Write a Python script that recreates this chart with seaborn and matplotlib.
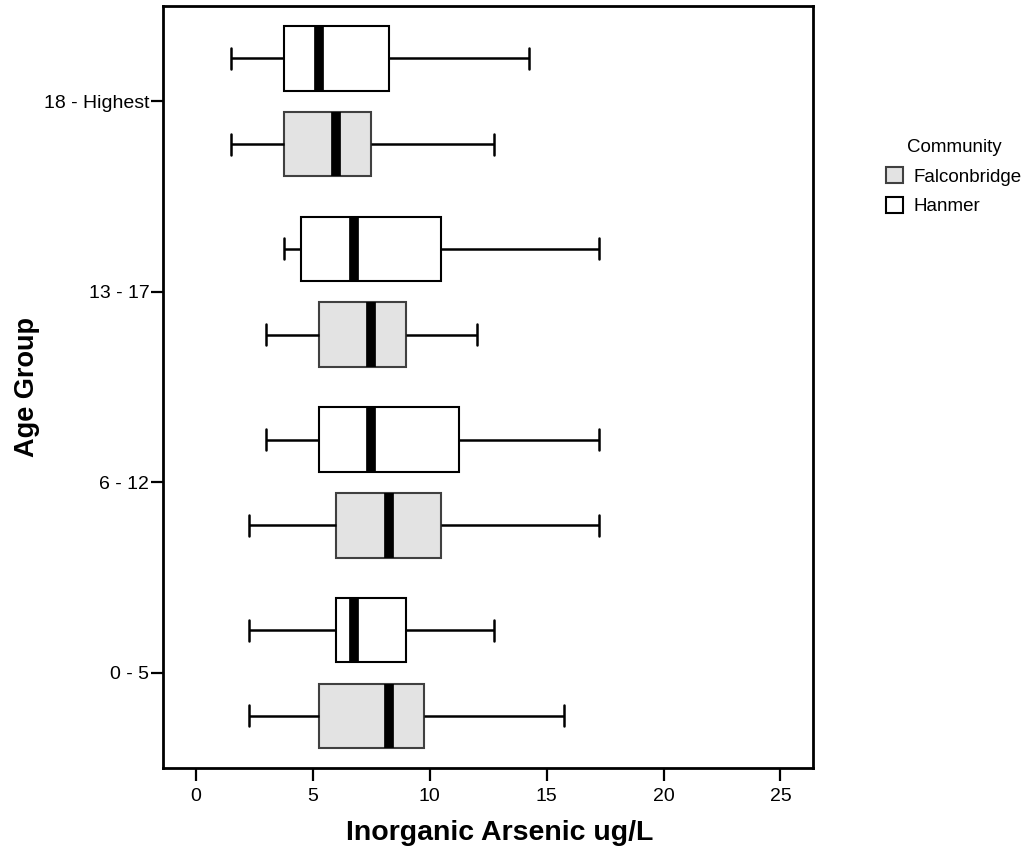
import numpy as np
import pandas as pd
import matplotlib.pyplot as plt
from matplotlib.patches import Patch
import seaborn as sns

# age groups, top to bottom as drawn
age_groups = ["18 - Highest", "13 - 17", "6 - 12", "0 - 5"]
communities = ["Hanmer", "Falconbridge"]
legend_order = ["Falconbridge", "Hanmer"]

# five-number summaries (min, q1, median, q3, max)
hanmer_min = [1.5, 3.75, 3.0, 2.25]
hanmer_q1 = [3.75, 4.5, 5.25, 6.0]
hanmer_med = [5.25, 6.75, 7.5, 6.75]
hanmer_q3 = [8.25, 10.5, 11.25, 9.0]
hanmer_max = [14.25, 17.25, 17.25, 12.75]

falcon_min = [1.5, 3.0, 2.25, 2.25]
falcon_q1 = [3.75, 5.25, 6.0, 5.25]
falcon_med = [6.0, 7.5, 8.25, 8.25]
falcon_q3 = [7.5, 9.0, 10.5, 9.75]
falcon_max = [12.75, 12.0, 17.25, 15.75]

x_ticks = [0, 5, 10, 15, 20, 25]

# a 5-value sample gives back exactly these quartiles with linear percentiles
rows = []
for i, age in enumerate(age_groups):
    for v in (hanmer_min[i], hanmer_q1[i], hanmer_med[i], hanmer_q3[i], hanmer_max[i]):
        rows.append((age, "Hanmer", v))
    for v in (falcon_min[i], falcon_q1[i], falcon_med[i], falcon_q3[i], falcon_max[i]):
        rows.append((age, "Falconbridge", v))
df = pd.DataFrame(rows, columns=["age", "community", "arsenic"])

sns.set_theme(style="ticks")
plt.rcParams["font.family"] = ["Liberation Sans", "DejaVu Sans"]
plt.rcParams["text.color"] = "black"
plt.rcParams["axes.labelcolor"] = "black"

fill = {"Hanmer": "#ffffff", "Falconbridge": "#e3e3e3"}
edge = {"Hanmer": "#000000", "Falconbridge": "#404040"}

fig, ax = plt.subplots(figsize=(10.32, 8.48), dpi=100)
fig.subplots_adjust(left=0.1582, right=0.788, bottom=0.094, top=0.993)

sns.boxplot(
    data=df, x="arsenic", y="age", hue="community",
    order=age_groups, hue_order=communities, palette=fill,
    whis=(0, 100), width=0.9, gap=0.245, showfliers=False,
    linecolor="black", linewidth=1.5,
    medianprops=dict(color="black", linewidth=7, solid_capstyle="butt"),
    whiskerprops=dict(color="black", linewidth=1.8),
    capprops=dict(color="black", linewidth=1.8),
    capwidths=0.11, legend=False, ax=ax,
)

# gray boxes get a dark gray outline
for p in ax.patches:
    fc = p.get_facecolor()
    if abs(fc[0] - 0xe3 / 255) < 0.02:
        p.set_edgecolor(edge["Falconbridge"])

ax.set_xlim(-1.4, 26.4)
ax.set_ylim(3.5, -0.5)
ax.set_xticks(x_ticks)
for s in ax.spines.values():
    s.set_visible(True)
    s.set_linewidth(2)
    s.set_color("black")
ax.tick_params(axis="both", length=9, width=1.6, color="black",
               labelsize=14, labelcolor="black")
ax.tick_params(axis="y", pad=1)
ax.tick_params(axis="x", pad=5)

ax.set_xlabel("Inorganic Arsenic ug/L", fontsize=20.5, fontweight="bold")
ax.set_ylabel("Age Group", fontsize=19.5, fontweight="bold")
ax.xaxis.set_label_coords(0.518, -0.068)
ax.yaxis.set_label_coords(-0.19, 0.5)

handles = [Patch(facecolor=fill[c], edgecolor=edge[c], linewidth=1.5) for c in legend_order]
ax.legend(handles, legend_order, title="Community", frameon=False,
          loc="upper left", bbox_to_anchor=(1.100, 0.835),
          fontsize=13.5, title_fontsize=13.5,
          handlelength=0.9, handleheight=0.9, handletextpad=0.6,
          labelspacing=0.6, borderaxespad=0)

fig.savefig("out.png", dpi=100)
